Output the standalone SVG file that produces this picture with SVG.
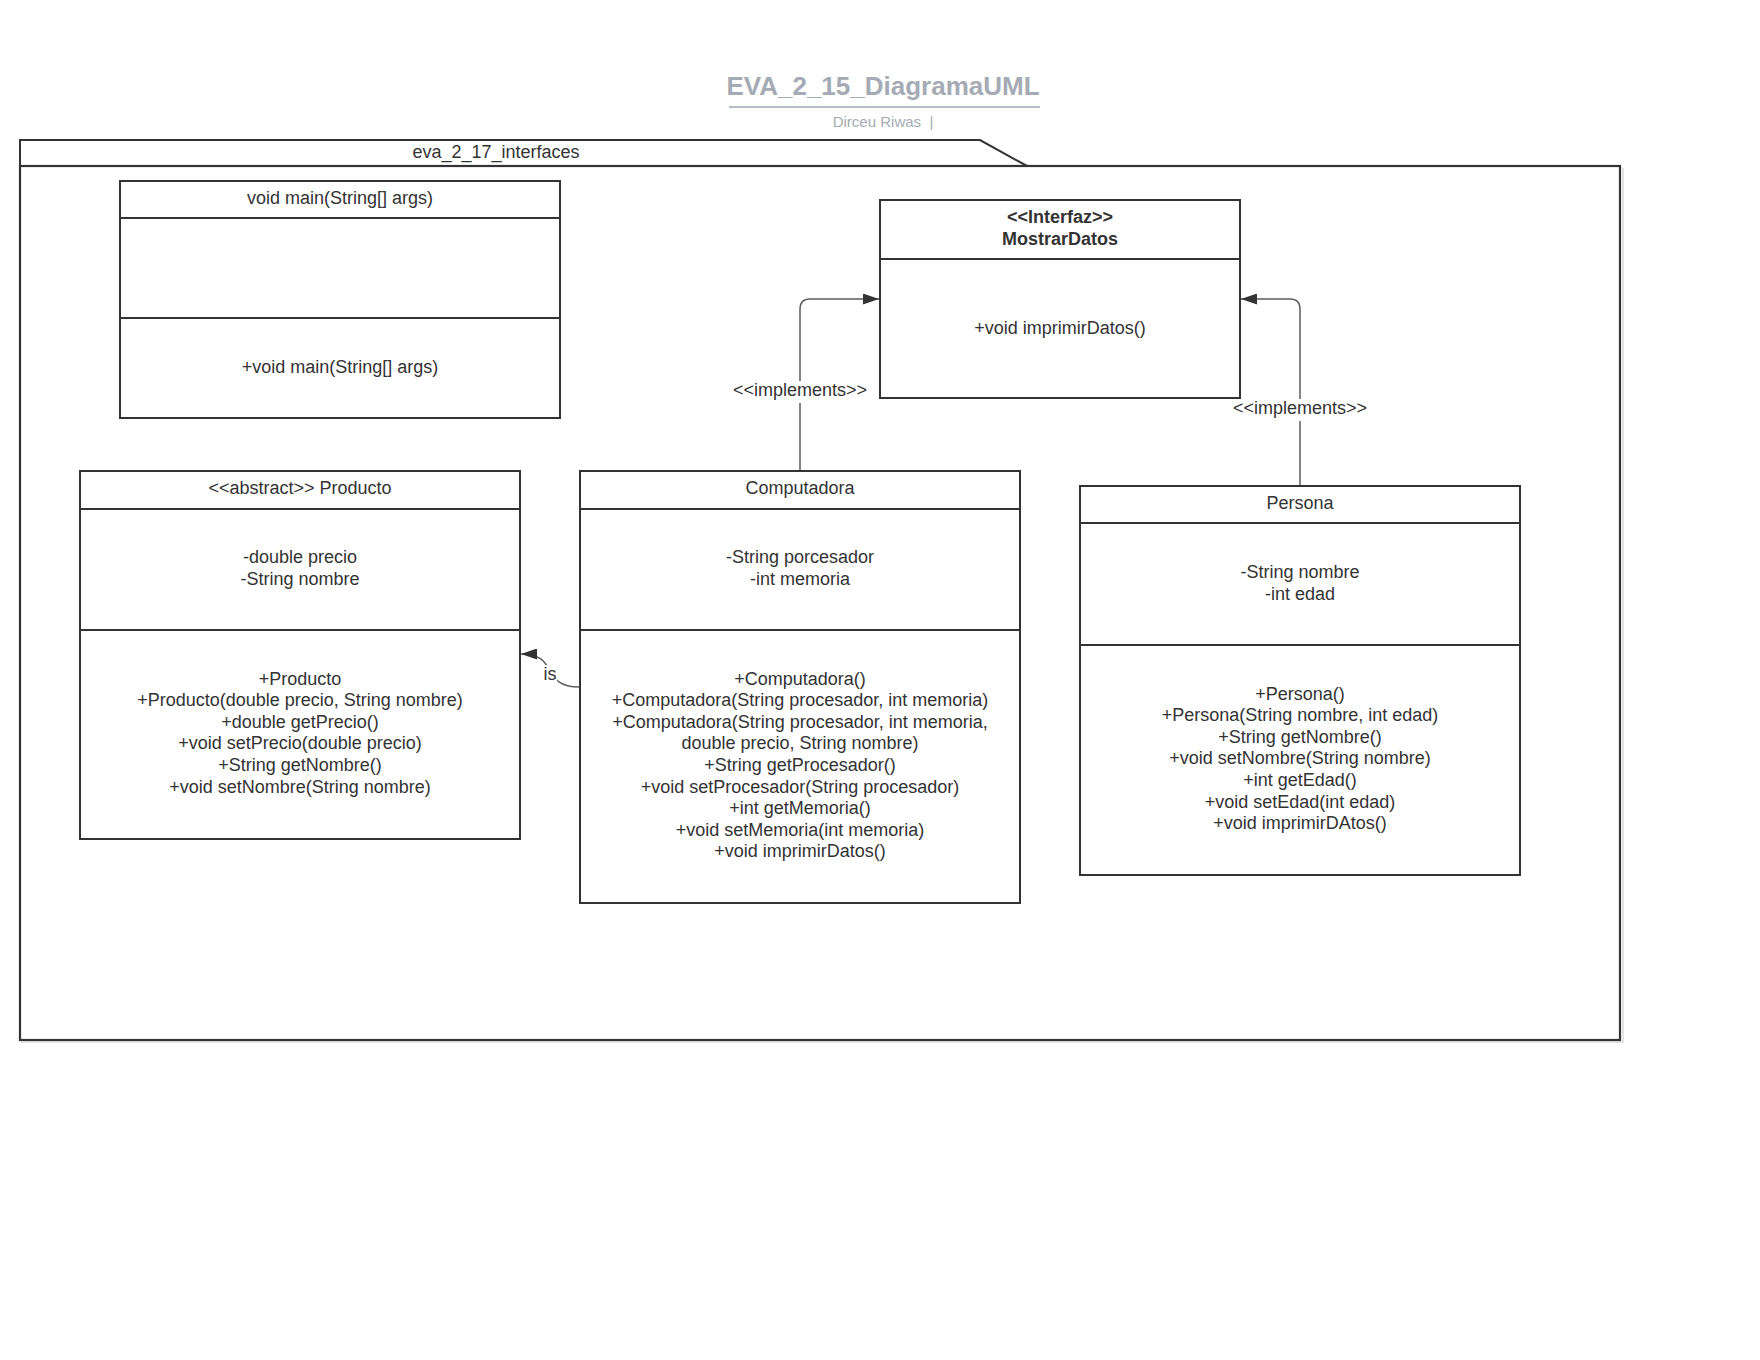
<svg xmlns="http://www.w3.org/2000/svg" width="1760" height="1360" viewBox="0 0 1760 1360">
<style>
  text { font-family: "Liberation Sans", Arial, sans-serif; fill: #333333; font-size: 18px; }
  .c { text-anchor: middle; }
  .b { font-weight: bold; }
  .box { fill: #ffffff; stroke: #333333; stroke-width: 2; }
  .div { stroke: #333333; stroke-width: 2; }
  .conn { fill: none; stroke: #5e5e5e; stroke-width: 1.5; }
  .lbl { fill: #ffffff; stroke: none; }
  .title { font-size: 26px; font-weight: bold; fill: #a5abb4; }
  .sub { font-size: 15px; fill: #a5abb4; white-space: pre; }
</style>
<defs>
  <marker id="arr" viewBox="0 0 16 11" refX="16" refY="5.5" markerWidth="16" markerHeight="11" markerUnits="userSpaceOnUse" orient="auto">
    <path d="M0,0 L16,5.5 L0,11 Z" fill="#333333"/>
  </marker>
</defs>
<rect width="1760" height="1360" fill="#ffffff"/>

<g id="title">
  <text class="c title" x="883" y="95">EVA_2_15_DiagramaUML</text>
  <line x1="729" y1="107" x2="1040" y2="107" stroke="#b8bec6" stroke-width="2"/>
  <text class="c sub" x="883" y="127">Dirceu Riwas  |</text>
</g>

<g id="package">
  <path d="M21,1042 L1623,1042 L1623,168" fill="none" stroke="#e4e4e4" stroke-width="2"/>
  <path d="M20,166 L20,140 L980,140 L1027,166" fill="none" stroke="#333333" stroke-width="2"/>
  <rect x="20" y="166" width="1600" height="874" fill="none" stroke="#333333" stroke-width="2.2"/>
  <text class="c" x="496" y="157.5">eva_2_17_interfaces</text>
</g>

<g id="main">
  <rect class="box" x="120" y="181" width="440" height="237"/>
  <line class="div" x1="120" y1="218" x2="560" y2="218"/>
  <line class="div" x1="120" y1="318" x2="560" y2="318"/>
  <text class="c" x="340" y="204">void main(String[] args)</text>
  <text class="c" x="340" y="372.5">+void main(String[] args)</text>
</g>

<g id="MostrarDatos">
  <rect class="box" x="880" y="200" width="360" height="198"/>
  <line class="div" x1="880" y1="259" x2="1240" y2="259"/>
  <text class="c b" x="1060" y="223">&lt;&lt;Interfaz&gt;&gt;</text>
  <text class="c b" x="1060" y="244.5">MostrarDatos</text>
  <text class="c" x="1060" y="333.5">+void imprimirDatos()</text>
</g>

<g id="Producto">
  <rect class="box" x="80" y="471" width="440" height="368"/>
  <line class="div" x1="80" y1="509" x2="520" y2="509"/>
  <line class="div" x1="80" y1="630" x2="520" y2="630"/>
  <text class="c" x="300" y="494">&lt;&lt;abstract&gt;&gt; Producto</text>
  <text class="c" x="300" y="563">-double precio<tspan x="300" dy="21.6">-String nombre</tspan></text>
  <text class="c" x="300" y="684.5">+Producto<tspan x="300" dy="21.6">+Producto(double precio, String nombre)</tspan><tspan x="300" dy="21.6">+double getPrecio()</tspan><tspan x="300" dy="21.6">+void setPrecio(double precio)</tspan><tspan x="300" dy="21.6">+String getNombre()</tspan><tspan x="300" dy="21.6">+void setNombre(String nombre)</tspan></text>
</g>

<g id="Computadora">
  <rect class="box" x="580" y="471" width="440" height="432"/>
  <line class="div" x1="580" y1="509" x2="1020" y2="509"/>
  <line class="div" x1="580" y1="630" x2="1020" y2="630"/>
  <text class="c" x="800" y="494">Computadora</text>
  <text class="c" x="800" y="563">-String porcesador<tspan x="800" dy="21.6">-int memoria</tspan></text>
  <text class="c" x="800" y="684.5">+Computadora()<tspan x="800" dy="21.6">+Computadora(String procesador, int memoria)</tspan><tspan x="800" dy="21.6">+Computadora(String procesador, int memoria,</tspan><tspan x="800" dy="21.6">double precio, String nombre)</tspan><tspan x="800" dy="21.6">+String getProcesador()</tspan><tspan x="800" dy="21.6">+void setProcesador(String procesador)</tspan><tspan x="800" dy="21.6">+int getMemoria()</tspan><tspan x="800" dy="21.6">+void setMemoria(int memoria)</tspan><tspan x="800" dy="21.6">+void imprimirDatos()</tspan></text>
</g>

<g id="Persona">
  <rect class="box" x="1080" y="486" width="440" height="389"/>
  <line class="div" x1="1080" y1="523" x2="1520" y2="523"/>
  <line class="div" x1="1080" y1="645" x2="1520" y2="645"/>
  <text class="c" x="1300" y="508.5">Persona</text>
  <text class="c" x="1300" y="578">-String nombre<tspan x="1300" dy="21.6">-int edad</tspan></text>
  <text class="c" x="1300" y="699.5">+Persona()<tspan x="1300" dy="21.6">+Persona(String nombre, int edad)</tspan><tspan x="1300" dy="21.6">+String getNombre()</tspan><tspan x="1300" dy="21.6">+void setNombre(String nombre)</tspan><tspan x="1300" dy="21.6">+int getEdad()</tspan><tspan x="1300" dy="21.6">+void setEdad(int edad)</tspan><tspan x="1300" dy="21.6">+void imprimirDAtos()</tspan></text>
</g>

<g id="connectors">
  <path class="conn" d="M800,470 L800,309 Q800,299 810,299 L879,299" marker-end="url(#arr)"/>
  <rect class="lbl" x="732" y="381" width="136" height="22"/>
  <text class="c" x="800" y="396">&lt;&lt;implements&gt;&gt;</text>

  <path class="conn" d="M1300,485 L1300,309 Q1300,299 1290,299 L1241,299" marker-end="url(#arr)"/>
  <rect class="lbl" x="1232" y="399" width="136" height="22"/>
  <text class="c" x="1300" y="414">&lt;&lt;implements&gt;&gt;</text>

  <path class="conn" d="M579,687 C540,687 560,654 521,654" marker-end="url(#arr)"/>
  <rect class="lbl" x="543" y="665" width="14" height="18"/>
  <text class="c" x="550" y="679.5">is</text>
</g>
</svg>
